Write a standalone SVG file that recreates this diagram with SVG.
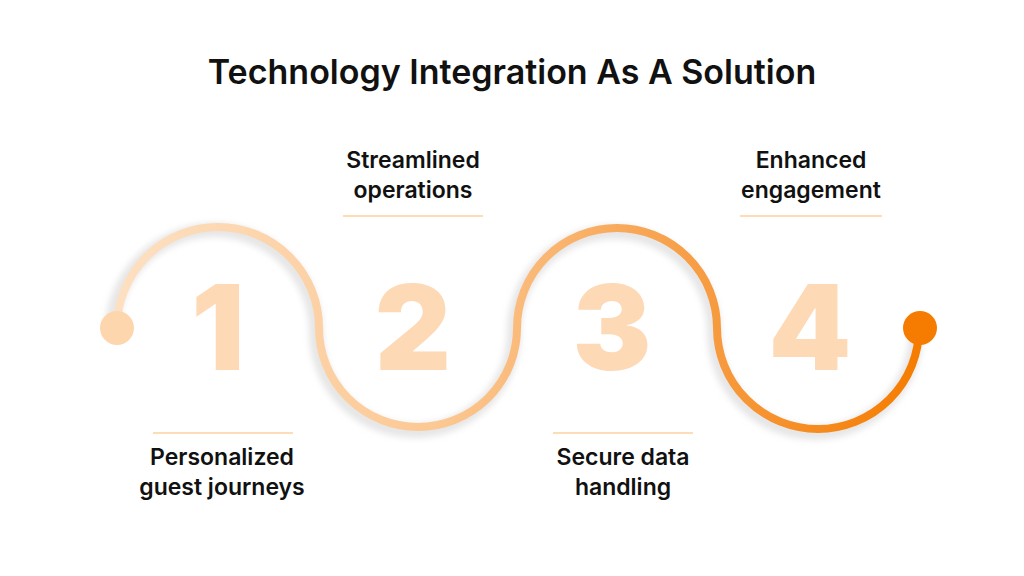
<svg xmlns="http://www.w3.org/2000/svg" width="1024" height="576" viewBox="0 0 1024 576">
<style>
.t{font-family:Inter,"Liberation Sans",sans-serif;font-weight:600;font-size:23px;fill:#111;text-anchor:middle}
.n{font-family:Inter,"Liberation Sans",sans-serif;font-weight:900;font-size:118px;fill:#fdd9b5;text-anchor:middle}
.u{stroke:#fddcb8;stroke-width:2}
</style>
<defs>
<linearGradient id="g" x1="117" y1="0" x2="919" y2="0" gradientUnits="userSpaceOnUse">
<stop offset="0" stop-color="#fde0c2"/><stop offset="0.4" stop-color="#fcc893"/><stop offset="0.7" stop-color="#f7a04a"/><stop offset="1" stop-color="#f57c00"/>
</linearGradient>
<filter id="b"><feGaussianBlur stdDeviation="3"/></filter>
</defs>
<rect width="1024" height="576" fill="#fff"/>
<text x="512" y="84" style="font-family:Inter,'Liberation Sans',sans-serif;font-weight:600;font-size:34px;fill:#111;text-anchor:middle">Technology Integration As A Solution</text>
<g id="connectors">
<path d="M112,332 A102,102 0 0 1 316,332 A99,99 0 0 0 514,332 A100,100 0 0 1 714,332 A101,101 0 0 0 916,332" fill="none" stroke="#e6e6e6" stroke-width="14" filter="url(#b)"/>
<path d="M117,328 A101,101 0 0 1 319,328 A99,99 0 0 0 517,328 A100,100 0 0 1 717,328 A101,101 0 0 0 919,328" fill="none" stroke="url(#g)" stroke-width="8"/>
</g>
<circle cx="117" cy="328" r="17" fill="#fdd6ae"/>
<circle cx="920" cy="328" r="17" fill="#f57c00"/>
<g id="n1"><text class="n" x="218" y="370">1</text>
<line class="u" x1="153" y1="433" x2="293" y2="433"/>
<text class="t" x="222" y="465">Personalized</text><text class="t" x="222" y="495">guest journeys</text></g>
<g id="n2"><text class="n" x="413" y="370">2</text>
<line class="u" x1="343" y1="216" x2="483" y2="216"/>
<text class="t" x="413" y="168">Streamlined</text><text class="t" x="413" y="198">operations</text></g>
<g id="n3"><text class="n" x="612" y="370">3</text>
<line class="u" x1="553" y1="433" x2="693" y2="433"/>
<text class="t" x="623" y="465">Secure data</text><text class="t" x="623" y="495">handling</text></g>
<g id="n4"><text class="n" x="810" y="370">4</text>
<line class="u" x1="740" y1="216" x2="882" y2="216"/>
<text class="t" x="811" y="168">Enhanced</text><text class="t" x="811" y="198">engagement</text></g>
</svg>
